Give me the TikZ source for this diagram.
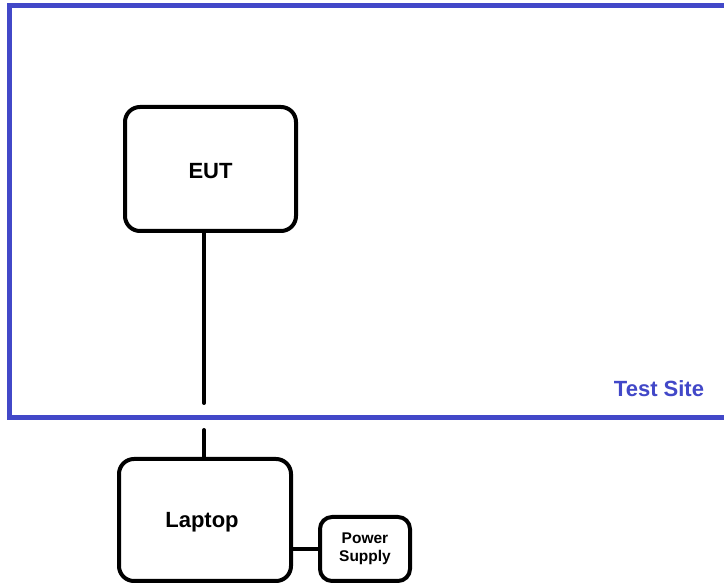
\documentclass[tikz,border=0pt]{standalone}
\usepackage{fontspec}
\setmainfont{Liberation Sans}
\definecolor{siteblue}{RGB}{66,72,200}
\begin{document}
\begin{tikzpicture}[x=1pt,y=-1pt,
  box/.style={draw=black, line width=4pt, rounded corners=15pt, fill=white, inner sep=0pt, font=\bfseries},
  bigtext/.style={font=\fontsize{22}{25}\selectfont\bfseries},
  wire/.style={draw=black, line width=4pt, line cap=round},
  site/.style={draw=siteblue, line width=5pt}]
\useasboundingbox (0,0) rectangle (724,585);
\clip (0,0) rectangle (724,585);
\fill[white] (0,0) rectangle (724,585);
% test site border (open on the right)
\draw[site] (740,5.5) -- (9.5,5.5) -- (9.5,418) -- (740,418);
\node[anchor=base, text=siteblue, bigtext] (site) at (659,397) {Test Site};
% nodes
\node[box, minimum width=171pt, minimum height=124pt, bigtext, text depth=0pt] (eut) at (210.5,169) {\raisebox{-3pt}{EUT}};
\node[box, minimum width=172pt, minimum height=122pt, bigtext, text depth=0pt] (laptop) at (205,520) {\hspace*{-6pt}Laptop};
\node[box, minimum width=90pt, minimum height=64pt, rounded corners=12pt, align=center, font=\fontsize{15.5}{18.5}\selectfont\bfseries] (psu) at (365,549) {Power\\Supply};
% connectors
\coordinate (c1) at (204,403);
\coordinate (c2) at (204,430);
\draw[wire, line cap=butt] (c1 |- eut.south) -- (c1);
\draw[wire] (c1) -- ++(0,-1);
\draw[wire] (c2) -- (c2 |- laptop.north);
\draw[wire, line cap=butt] (psu.west) -- (psu.west -| laptop.east);
\end{tikzpicture}
\end{document}
